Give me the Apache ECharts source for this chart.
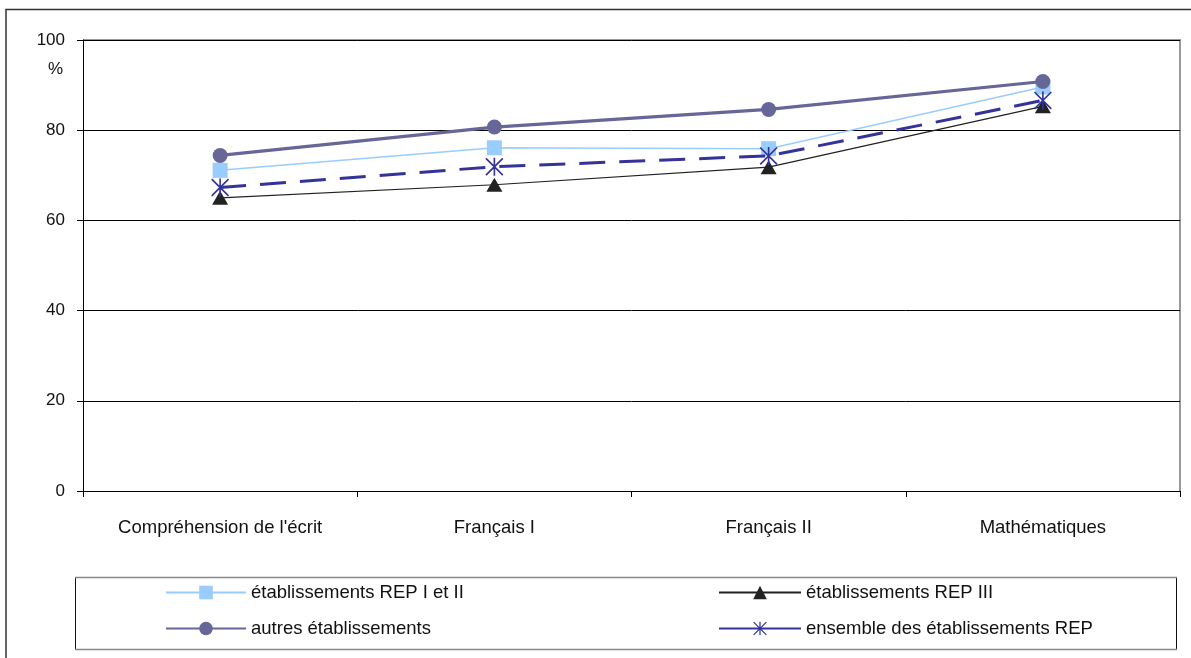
<!DOCTYPE html>
<html>
<head>
<meta charset="utf-8">
<script src="https://cdn.jsdelivr.net/npm/echarts@6/dist/echarts.min.js"></script>
<style>
  html, body { margin: 0; padding: 0; background: #fff; }
  #chart { width: 1191px; height: 658px; }
</style>
</head>
<body>
<div id="chart"></div>
<script>
// Categories (tests) and success rates in %
const categories = ["Compréhension de l'écrit", "Français I", "Français II", "Mathématiques"];
const repI_II   = [71.1, 76.1, 75.9, 89.6];
const repIII    = [65.0, 67.9, 71.8, 85.3];
const autres    = [74.4, 80.7, 84.6, 90.8];
const ensemble  = [67.3, 71.9, 74.3, 86.6];
const yTicks = [0, 20, 40, 60, 80, 100];

const seriesNames = [
  "établissements REP I et II",
  "établissements REP III",
  "autres établissements",
  "ensemble des établissements REP"
];

// Asterisk marker built from three bars: vertical + two diagonals
const asterisk = 'path://M9.1 0 L10.9 0 L10.9 20 L9.1 20 Z ' +
  'M0 1.3 L1.3 0 L20 18.7 L18.7 20 Z ' +
  'M18.7 0 L20 1.3 L1.3 20 L0 18.7 Z';

const font = '"Liberation Sans", Arial, sans-serif';
const chart = echarts.init(document.getElementById('chart'), null, { renderer: 'canvas' });

chart.setOption({
  animation: false,
  backgroundColor: '#ffffff',
  textStyle: { fontFamily: font },
  grid: { left: 83, right: 11, top: 40, bottom: 167, containLabel: false,
          show: false },
  xAxis: {
    type: 'category',
    data: categories,
    boundaryGap: true,
    axisLine: { lineStyle: { color: '#000', width: 1 } },
    axisTick: { show: true, length: 6, inside: false, alignWithLabel: false,
                lineStyle: { color: '#000' } },
    axisLabel: { color: '#111', fontSize: 18.5, fontFamily: font, margin: 27 }
  },
  yAxis: {
    type: 'value',
    min: 0, max: 100, interval: 20,
    axisLine: { show: true, lineStyle: { color: '#000', width: 1 } },
    axisTick: { show: true, length: 6, inside: false, lineStyle: { color: '#000' } },
    axisLabel: { color: '#111', fontSize: 17, fontFamily: font, margin: 18,
                 formatter: v => yTicks.includes(v) ? String(v) : '' },
    splitLine: { show: true, lineStyle: { color: '#000', width: 1 } }
  },
  legend: [
    {
      data: [seriesNames[0], seriesNames[2]],
      orient: 'vertical', left: 160, top: 578,
      itemWidth: 80, itemHeight: 17, itemGap: 17,
      lineStyle: { type: 'solid' },
      textStyle: { fontSize: 18.5, color: '#111', fontFamily: font }
    },
    {
      data: [seriesNames[1], seriesNames[3]],
      orient: 'vertical', left: 713, top: 578,
      itemWidth: 82, itemHeight: 17, itemGap: 17,
      lineStyle: { type: 'solid' },
      textStyle: { fontSize: 18.5, color: '#111', fontFamily: font }
    }
  ],
  series: [
    {
      name: seriesNames[0], type: 'line', data: repI_II,
      symbol: 'rect', symbolSize: 15,
      itemStyle: { color: '#99CCFF' },
      lineStyle: { color: '#99CCFF', width: 1.5 },
      z: 2
    },
    {
      name: seriesNames[1], type: 'line', data: repIII,
      symbol: 'triangle', symbolSize: [16, 14],
      itemStyle: { color: '#222222' },
      lineStyle: { color: '#222222', width: 1.2 },
      z: 3
    },
    {
      name: seriesNames[2], type: 'line', data: autres,
      symbol: 'circle', symbolSize: 15,
      itemStyle: { color: '#666699' },
      lineStyle: { color: '#666699', width: 3.2 },
      z: 4
    },
    {
      name: seriesNames[3], type: 'line', data: ensemble,
      symbol: asterisk, symbolSize: 18,
      itemStyle: { color: '#333399' },
      lineStyle: { color: '#333399', width: 3, type: [26, 14] },
      z: 5
    }
  ],
  graphic: [
    // outer chart frame
    { type: 'rect', shape: { x: 6, y: 9.5, width: 1200, height: 660 },
      style: { fill: 'none', stroke: '#333', lineWidth: 1.5 }, silent: true },
    // plot area frame (top and right edges)
    { type: 'polyline', shape: { points: [[83, 40], [1180, 40], [1180, 491]] },
      style: { fill: 'none', stroke: '#999', lineWidth: 2 }, silent: true, z: 0 },
    // legend frame
    { type: 'rect', shape: { x: 75.5, y: 577.5, width: 1101, height: 72 },
      style: { fill: 'none', stroke: '#111', lineWidth: 1 }, silent: true },
    { type: 'line', shape: { x1: 75, y1: 577.5, x2: 1177, y2: 577.5 },
      style: { stroke: '#888', lineWidth: 1.5 }, silent: true },
    { type: 'line', shape: { x1: 75, y1: 649.5, x2: 1177, y2: 649.5 },
      style: { stroke: '#888', lineWidth: 1.5 }, silent: true },
    // unit label under the top tick
    { type: 'text', left: 48, top: 61,
      style: { text: '%', fontSize: 17, fill: '#111', fontFamily: font } }
  ]
});
</script>
</body>
</html>
